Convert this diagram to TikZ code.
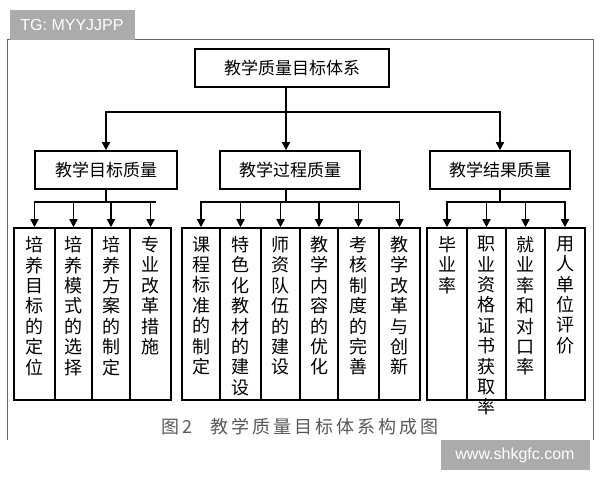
\documentclass[tikz,border=0pt]{standalone}
\usepackage{fontspec}
\newfontfamily\cjk{Noto Sans CJK SC}
\newfontfamily\wm{Liberation Sans}
\usetikzlibrary{arrows.meta}
\tikzset{
 box/.style={draw,line width=0.8pt,font=\cjk\fontsize{8.5}{10}\selectfont,inner sep=0pt},
 leaf/.style={draw,line width=0.8pt,minimum width=#1,minimum height=86pt,inner sep=0pt},
 vt/.style={font=\cjk\fontsize{9}{10.2}\selectfont,align=center,anchor=north,inner sep=0pt},
 arr/.style={line width=0.8pt,-{Triangle[length=4pt,width=4pt]}},
 ln/.style={line width=0.8pt},
 wmbox/.style={fill=black!33,text=white,font=\wm\fontsize{8}{9}\selectfont,inner sep=0pt}
}
\begin{document}
\begin{tikzpicture}[x=0.5pt,y=-0.5pt]
\useasboundingbox (0,0) rectangle (600,480);
\fill[white] (0,0) rectangle (600,480);
\draw[black!60,line width=0.5pt] (7,440) -- (7,40) -- (593,40) -- (593,440);
\node[wmbox,minimum width=62.5pt,minimum height=15pt] (tg) at (72,25) {TG: MYYJJPP};
\node[wmbox,minimum width=74.5pt,minimum height=15pt] (www) at (515,455) {www.shkgfc.com};
% top
\node[box,minimum width=97pt,minimum height=19pt] (top) at (292,68) {教学质量目标体系};
\node[box,minimum width=71pt,minimum height=19pt] (a) at (106,170) {教学目标质量};
\node[box,minimum width=70pt,minimum height=19pt] (b) at (290,170) {教学过程质量};
\node[box,minimum width=70pt,minimum height=19pt] (c) at (500,170) {教学结果质量};
\coordinate (t1) at (286,112);
\draw[ln] (top.south -| t1) -- (t1);
\draw[arr] (t1) -| (a.north);
\draw[arr] (t1) -- (t1 |- b.north);
\draw[arr] (t1) -| (c.north);
% leaves
\newcommand\leafnode[5]{% name, x1, x2, text
 \node[leaf=#3*0.5pt-#2*0.5pt] (#1) at ({(#2+#3)/2},314) {};
 \node[vt] (#1t) at ({(#2+#3)/2},236) {#4};
 \draw[arr] (#5) -- ({(#2+#3)/2},202) -- (#1.north);
}
\coordinate (ja) at (106,202);
\coordinate (jb) at (286,202);
\coordinate (jc) at (500,202);
\draw[ln] (a.south) -- (ja);
\draw[ln] (b.south -| jb) -- (jb);
\draw[ln] (c.south) -- (jc);
\draw[ln] (34,202) -- (156,202);
\draw[ln] (201,202) -- (399,202);
\draw[ln] (447,202) -- (565,202);
\leafnode{l1}{14}{55}{培\\养\\目\\标\\的\\定\\位}{ja}
\leafnode{l2}{55}{92}{培\\养\\模\\式\\的\\选\\择}{ja}
\leafnode{l3}{92}{130}{培\\养\\方\\案\\的\\制\\定}{ja}
\leafnode{l4}{130}{171}{专\\业\\改\\革\\措\\施}{ja}
\leafnode{m1}{182}{220}{课\\程\\标\\准\\的\\制\\定}{jb}
\leafnode{m2}{220}{261}{特\\色\\化\\教\\材\\的\\建\\设}{jb}
\leafnode{m3}{261}{300}{师\\资\\队\\伍\\的\\建\\设}{jb}
\leafnode{m4}{300}{338}{教\\学\\内\\容\\的\\优\\化}{jb}
\leafnode{m5}{338}{379}{考\\核\\制\\度\\的\\完\\善}{jb}
\leafnode{m6}{379}{420}{教\\学\\改\\革\\与\\创\\新}{jb}
\leafnode{r1}{427}{467}{毕\\业\\率}{jc}
\leafnode{r2}{467}{506}{职\\业\\资\\格\\证\\书\\获\\取\\率}{jc}
\leafnode{r3}{506}{545}{就\\业\\率\\和\\对\\口\\率}{jc}
\leafnode{r4}{545}{585}{用\\人\\单\\位\\评\\价}{jc}
\node[font=\cjk\fontsize{9}{10}\selectfont,text=black!65] (cap) at (300,427) {图\,2\quad 教\,学\,质\,量\,目\,标\,体\,系\,构\,成\,图};
\end{tikzpicture}
\end{document}
